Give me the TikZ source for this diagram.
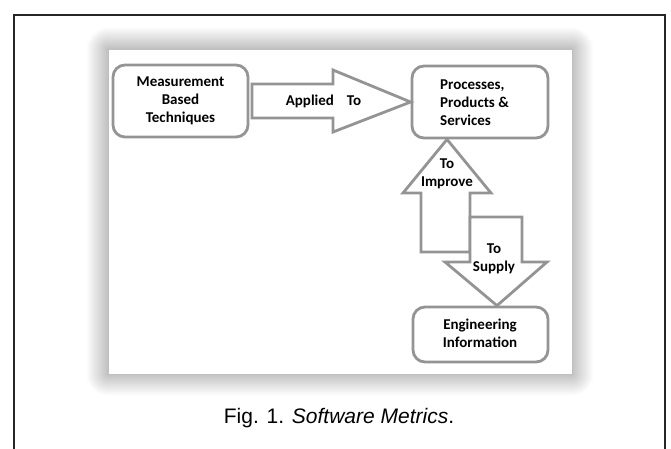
\documentclass[tikz,border=0pt]{standalone}
\usepackage{fontspec}
\setmainfont{Liberation Sans}
\newfontfamily\boxfont{Carlito}
\usetikzlibrary{shadows.blur,calc}
\begin{document}
\begin{tikzpicture}[x=1pt,y=-1pt,
  sketch/.style={draw=black!42, line width=2.8pt, fill=white, line join=miter},
  boxshape/.style={sketch, rounded corners=12pt, inner sep=0pt},
  lbl/.style={font=\boxfont\bfseries\fontsize{15}{18}\selectfont, align=center, inner sep=0pt, text=black},
  frame/.style={draw=black!85, line width=1.6pt}]
\useasboundingbox (0,0) rectangle (671,448);

% outer figure frame (open at the bottom)
\draw[frame] (14,449) -- (14,15) -- (665,15) -- (665,449);

% pasted sheet with its soft shadow
\node[fill=white, draw=black!25, line width=0.6pt, inner sep=0pt,
      minimum width=464pt, minimum height=325pt,
      blur shadow={shadow xshift=0pt, shadow yshift=0pt, shadow blur radius=22pt, shadow opacity=50, shadow blur steps=25}]
      (sheet) at (340,211.5) {};

% boxes
\node[boxshape, minimum width=135pt, minimum height=72pt] (meas) at (180.5,101) {};
\node[boxshape, minimum width=136pt, minimum height=72pt] (proc) at (480,102) {};
\node[boxshape, minimum width=135pt, minimum height=55pt] (eng) at (480.5,334.5) {};

% block arrows
\draw[sketch] (252,84) -- (333,84) -- (333,70) -- (proc.west) -- (333,132) -- (333,118) -- (252,118) -- cycle;
\draw[sketch] (421,252) -- (421,193) -- (403,193) -- ($(proc.south)+(-33,0)$) -- (491,193) -- (470,193) -- (470,252) -- cycle;
\draw[sketch] (470,217) -- (522,217) -- (522,262) -- (547,262) -- ($(eng.north)+(16.5,0)$) -- (445,262) -- (470,262) -- cycle;

% labels
\node[lbl] (measT) at (meas.center) {Measurement\\Based\\Techniques};
\node[lbl, align=left, anchor=west] (procT) at (440,103) {Processes,\\Products \&\\Services};
\node[lbl] (engT) at (480,333) {Engineering\\Information};
\node[lbl] (applT) at (323.5,101) {Applied\hspace{13pt}To};
\node[lbl] (imprT) at (447,174) {To\\Improve};
\node[lbl] (supT) at (494,259) {To\\Supply};

% caption
\node[font=\fontsize{21}{25}\selectfont, anchor=base, inner sep=0pt] (cap) at (339,423) {Fig. 1. \textit{Software Metrics}.};
\end{tikzpicture}
\end{document}
